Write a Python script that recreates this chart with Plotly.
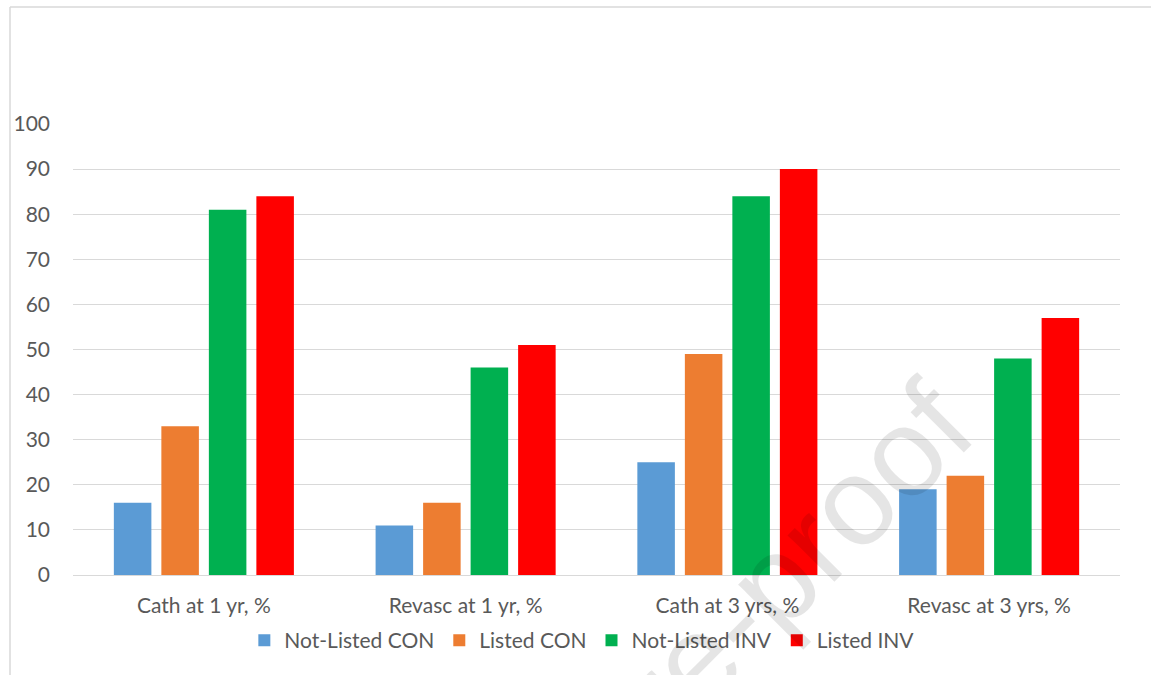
import plotly.graph_objects as go

categories = ["Cath at 1 yr, %", "Revasc at 1 yr, %", "Cath at 3 yrs, %", "Revasc at 3 yrs, %"]
series_names = ["Not-Listed CON", "Listed CON", "Not-Listed INV", "Listed INV"]
not_listed_con = [16, 11, 25, 19]
listed_con = [33, 16, 49, 22]
not_listed_inv = [81, 46, 84, 48]
listed_inv = [84, 51, 90, 57]
y_ticks = [0, 10, 20, 30, 40, 50, 60, 70, 80, 90, 100]

colors = ["#5B9BD5", "#ED7D31", "#00B050", "#FF0000"]
values = [not_listed_con, listed_con, not_listed_inv, listed_inv]

FONT = "Lato"
TXT = "#595959"

W, H = 1151, 675
L, R, T, B = 73, 31, 124, 100
PW, PH = W - L - R, H - T - B


def px_x(px):
    return (px - L) / PW


def px_y(py):
    return (H - B - py) / PH


fig = go.Figure()
for name, vals, col in zip(series_names, values, colors):
    fig.add_trace(go.Bar(x=categories, y=vals, name=name,
                         marker=dict(color=col, line=dict(width=0))))

fig.update_layout(
    width=W, height=H,
    barmode="group", bargap=0.274, bargroupgap=0.21,
    paper_bgcolor="white", plot_bgcolor="white",
    margin=dict(l=L, r=R, t=T, b=B, autoexpand=False),
    font=dict(family=FONT, size=21, color=TXT),
    showlegend=True,
    legend=dict(orientation="h", x=0.486, xanchor="center", y=px_y(620), yanchor="top",
                font=dict(family=FONT, size=21, color=TXT), itemwidth=30,
                traceorder="normal"),
    xaxis=dict(showgrid=False, showline=False, ticks="", ticklabelstandoff=16,
               tickfont=dict(family=FONT, size=21, color=TXT)),
    yaxis=dict(range=[0, 100], tickvals=y_ticks, showgrid=True, gridcolor="#D9D9D9",
               gridwidth=1, zeroline=True, zerolinecolor="#D9D9D9", zerolinewidth=1,
               showline=False, ticks="", ticklabelstandoff=22,
               tickfont=dict(family=FONT, size=21, color=TXT)),
    shapes=[
        dict(type="line", xref="paper", yref="paper", x0=px_x(10), x1=px_x(W + 5),
             y0=px_y(7), y1=px_y(7), line=dict(color="#D9D9D9", width=1.5)),
        dict(type="line", xref="paper", yref="paper", x0=px_x(10), x1=px_x(10),
             y0=px_y(H + 5), y1=px_y(7), line=dict(color="#D9D9D9", width=1.5)),
    ],
    annotations=[
        dict(text="Journal Pre-proof", xref="paper", yref="paper",
             x=px_x(608), y=px_y(746), showarrow=False, textangle=-45,
             font=dict(family="Liberation Sans", size=125, color="rgba(0,0,0,0.10)"),
             xanchor="center", yanchor="middle"),
    ],
)

fig.write_html("out.html", config={"displayModeBar": False},
               post_script="document.body.style.margin='0';document.body.style.overflow='hidden';")
